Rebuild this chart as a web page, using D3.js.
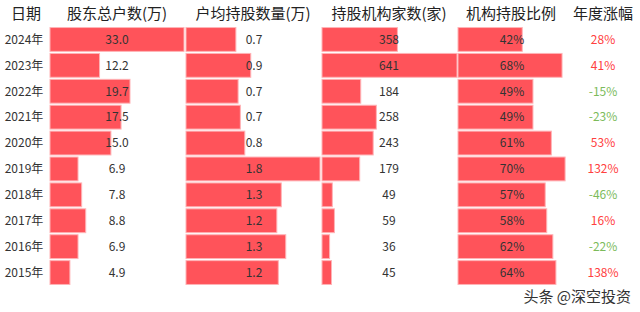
<!DOCTYPE html>
<html>
<head>
<meta charset="utf-8">
<script src="https://cdn.jsdelivr.net/npm/d3@7"></script>
<style>
  body { margin: 0; background: #fff; }
  text { font-family: "Noto Sans CJK SC", "Noto Sans", sans-serif; }
</style>
</head>
<body>
<script>
// data
const years = ['2024年', '2023年', '2022年', '2021年', '2020年', '2019年', '2018年', '2017年', '2016年', '2015年'];
const holders = [33.0, 12.2, 19.7, 17.5, 15.0, 6.9, 7.8, 8.8, 6.9, 4.9];
const perHolder = [0.67, 0.87, 0.70, 0.73, 0.79, 1.8, 1.28, 1.22, 1.34, 1.24];
const institutions = [358, 641, 184, 258, 243, 179, 49, 59, 36, 45];
const instRatio = [42, 68, 49, 49, 61, 70, 57, 58, 62, 64];
const growth = [28, 41, -15, -23, 53, 132, -46, 16, -22, 138];
const headers = ['日期', '股东总户数(万)', '户均持股数量(万)', '持股机构家数(家)', '机构持股比例', '年度涨幅'];

const width = 640, height = 312;
const barColor = '#ff535a';
const barStroke = '#ffb3b6';

const svg = d3.select('body').append('svg')
  .attr('width', width)
  .attr('height', height);

const y = d3.scaleBand()
  .domain(years)
  .range([26.5, 285.5])
  .paddingInner(0.08)
  .paddingOuter(0.04);

// bar columns: scale, label centre, formatter
const columns = [
  { values: holders, x: d3.scaleLinear().domain([0, 33]).range([50, 184]), cx: 117, fmt: d => d.toFixed(1) },
  { values: perHolder, x: d3.scaleLinear().domain([0, 1.8]).range([186, 320]), cx: 254, fmt: d => d.toFixed(1) },
  { values: institutions, x: d3.scaleLinear().domain([0, 641]).range([322, 457]), cx: 389, fmt: d => d },
  { values: instRatio, x: d3.scaleLinear().domain([0, 100]).range([458, 611]), cx: 512, fmt: d => d + '%' }
];

// header
const headerX = [26, 117, 253, 389, 511, 603];
svg.selectAll('text.header')
  .data(headers)
  .join('text')
  .attr('class', 'header')
  .attr('x', (d, i) => headerX[i])
  .attr('y', 19)
  .attr('text-anchor', 'middle')
  .attr('font-size', 15)
  .attr('fill', '#222')
  .text(d => d);

// year labels
svg.selectAll('text.year')
  .data(years)
  .join('text')
  .attr('class', 'year')
  .attr('x', 24)
  .attr('y', d => y(d) + y.bandwidth() / 2)
  .attr('dy', '0.36em')
  .attr('text-anchor', 'middle')
  .attr('font-size', 12)
  .attr('fill', '#333')
  .text(d => d);

columns.forEach((col, ci) => {
  const g = svg.append('g').attr('class', 'col' + ci);
  g.selectAll('rect')
    .data(col.values)
    .join('rect')
    .attr('x', col.x(0))
    .attr('y', (d, i) => y(years[i]))
    .attr('width', d => col.x(d) - col.x(0))
    .attr('height', y.bandwidth())
    .attr('fill', barColor)
    .attr('stroke', barStroke)
    .attr('stroke-width', 1);
  g.selectAll('text')
    .data(col.values)
    .join('text')
    .attr('x', col.cx)
    .attr('y', (d, i) => y(years[i]) + y.bandwidth() / 2)
    .attr('dy', '0.36em')
    .attr('text-anchor', 'middle')
    .attr('font-size', 12)
    .attr('fill', '#333')
    .text(d => col.fmt(d));
});

// yearly change
svg.selectAll('text.growth')
  .data(growth)
  .join('text')
  .attr('class', 'growth')
  .attr('x', 603)
  .attr('y', (d, i) => y(years[i]) + y.bandwidth() / 2)
  .attr('dy', '0.36em')
  .attr('text-anchor', 'middle')
  .attr('font-size', 12)
  .attr('fill', d => d >= 0 ? '#ff4040' : '#7cbb5a')
  .text(d => d + '%');

// watermark
svg.append('text')
  .attr('x', 631)
  .attr('y', 302)
  .attr('text-anchor', 'end')
  .attr('font-size', 15)
  .attr('fill', '#333')
  .attr('stroke', '#fff')
  .attr('stroke-width', 3)
  .attr('paint-order', 'stroke')
  .text('头条 @深空投资');
</script>
</body>
</html>
